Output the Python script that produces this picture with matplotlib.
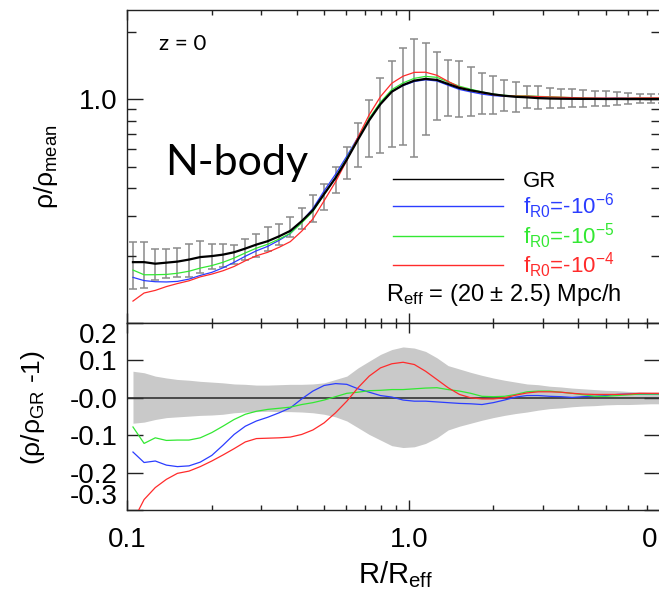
import numpy as np
import matplotlib
matplotlib.use("Agg")
import matplotlib.pyplot as plt

plt.rcParams['font.family'] = ['Liberation Sans', 'DejaVu Sans']
plt.rcParams['mathtext.fontset'] = 'custom'
plt.rcParams['mathtext.rm'] = 'Liberation Sans'
plt.rcParams['mathtext.it'] = 'Liberation Sans:italic'
plt.rcParams['mathtext.default'] = 'regular'

# radial bins R/R_eff
r = [0.105, 0.115, 0.126, 0.138, 0.151, 0.166, 0.182, 0.200, 0.219, 0.240,
     0.263, 0.288, 0.316, 0.347, 0.380, 0.417, 0.457, 0.501, 0.550, 0.603,
     0.661, 0.724, 0.794, 0.871, 0.955, 1.047, 1.148, 1.259, 1.380, 1.514,
     1.660, 1.820, 1.995, 2.188, 2.399, 2.630, 2.884, 3.162, 3.467, 3.802,
     4.169, 4.571, 5.012, 5.495, 6.026, 6.607, 7.244, 7.943]

# GR profile rho/rho_mean and its error bars
gr = [0.187, 0.187, 0.184, 0.186, 0.188, 0.192, 0.197, 0.199, 0.202, 0.207,
      0.215, 0.224, 0.232, 0.244, 0.258, 0.285, 0.319, 0.377, 0.445, 0.537,
      0.660, 0.804, 0.950, 1.079, 1.156, 1.209, 1.231, 1.218, 1.168, 1.121,
      1.094, 1.072, 1.050, 1.035, 1.024, 1.018, 1.010, 1.006, 1.004, 1.003,
      1.002, 1.002, 1.001, 1.001, 1.000, 1.000, 1.000, 1.000]
err_hi = [0.230, 0.230, 0.213, 0.213, 0.216, 0.225, 0.232, 0.225, 0.226, 0.222,
          0.237, 0.251, 0.269, 0.278, 0.298, 0.325, 0.373, 0.418, 0.499, 0.614,
          0.780, 0.990, 1.243, 1.483, 1.688, 1.863, 1.788, 1.628, 1.499, 1.475,
          1.393, 1.309, 1.269, 1.218, 1.193, 1.144, 1.144, 1.121, 1.109, 1.109,
          1.098, 1.087, 1.087, 1.075, 1.064, 1.053, 1.053, 1.050]
err_lo = [0.142, 0.144, 0.156, 0.159, 0.161, 0.161, 0.168, 0.175, 0.177, 0.184,
          0.192, 0.198, 0.210, 0.222, 0.241, 0.262, 0.282, 0.319, 0.381, 0.441,
          0.499, 0.554, 0.577, 0.608, 0.621, 0.554, 0.692, 0.809, 0.839, 0.834,
          0.839, 0.856, 0.856, 0.883, 0.874, 0.911, 0.902, 0.911, 0.911, 0.920,
          0.920, 0.930, 0.930, 0.940, 0.950, 0.959, 0.959, 0.962]

# rho/rho_GR - 1 for each f(R) model
d_f6 = [-0.145, -0.173, -0.169, -0.180, -0.184, -0.182, -0.172, -0.154, -0.127, -0.098,
        -0.076, -0.062, -0.052, -0.040, -0.027, -0.003, 0.018, 0.033, 0.038, 0.036,
        0.024, 0.015, 0.006, 0.002, -0.006, -0.009, -0.009, -0.011, -0.013, -0.015,
        -0.016, -0.018, -0.013, -0.006, 0.002, 0.006, 0.006, 0.004, 0.003, 0.001,
        0.003, 0.004, 0.006, 0.009, 0.010, 0.010, 0.010, 0.010]
d_f5 = [-0.078, -0.122, -0.107, -0.114, -0.113, -0.113, -0.107, -0.093, -0.076, -0.058,
        -0.044, -0.036, -0.031, -0.028, -0.025, -0.018, -0.013, -0.006, 0.003, 0.012,
        0.015, 0.019, 0.020, 0.022, 0.022, 0.024, 0.026, 0.027, 0.022, 0.018,
        0.012, 0.004, 0.003, 0.004, 0.009, 0.016, 0.018, 0.018, 0.015, 0.012,
        0.008, 0.004, 0.004, 0.006, 0.008, 0.010, 0.010, 0.010]
d_f4 = [-0.330, -0.272, -0.240, -0.218, -0.202, -0.196, -0.184, -0.169, -0.153, -0.136,
        -0.118, -0.109, -0.108, -0.107, -0.105, -0.098, -0.086, -0.067, -0.040, -0.009,
        0.027, 0.058, 0.080, 0.091, 0.095, 0.089, 0.071, 0.049, 0.027, 0.009,
        0.000, -0.003, -0.003, 0.000, 0.007, 0.013, 0.016, 0.016, 0.015, 0.012,
        0.010, 0.009, 0.009, 0.009, 0.010, 0.012, 0.012, 0.012]

# scatter band around GR
band_hi = [0.071, 0.067, 0.058, 0.053, 0.049, 0.047, 0.044, 0.042, 0.040, 0.037,
           0.036, 0.034, 0.034, 0.035, 0.036, 0.036, 0.037, 0.040, 0.049, 0.058,
           0.080, 0.098, 0.116, 0.129, 0.136, 0.133, 0.124, 0.107, 0.086, 0.077,
           0.068, 0.060, 0.053, 0.047, 0.042, 0.037, 0.035, 0.031, 0.029, 0.026,
           0.024, 0.022, 0.020, 0.019, 0.017, 0.016, 0.015, 0.015]
band_lo = [-0.068, -0.065, -0.058, -0.053, -0.051, -0.049, -0.047, -0.046, -0.044, -0.040,
           -0.038, -0.037, -0.036, -0.037, -0.037, -0.038, -0.040, -0.044, -0.051, -0.062,
           -0.080, -0.098, -0.113, -0.128, -0.133, -0.131, -0.122, -0.107, -0.086, -0.076,
           -0.068, -0.060, -0.053, -0.047, -0.042, -0.038, -0.033, -0.029, -0.027, -0.024,
           -0.022, -0.021, -0.019, -0.018, -0.018, -0.017, -0.016, -0.016]

model_names = [r'f$_{R0}$=-10$^{-6}$', r'f$_{R0}$=-10$^{-5}$', r'f$_{R0}$=-10$^{-4}$']
model_colors = ['#2b3dff', '#33e833', '#ff2b2b']
model_deltas = [d_f6, d_f5, d_f4]


def style_axes(ax):
    ax.tick_params(which='both', direction='in', top=True, right=True,
                   width=1.0, labelsize=20, color='#222222')
    ax.tick_params(axis='x', which='major', length=7, pad=12)
    ax.tick_params(axis='x', which='minor', length=3.5)
    ax.tick_params(axis='y', which='major', length=11.5, pad=7)
    ax.tick_params(axis='y', which='minor', length=6.5)
    for s in ax.spines.values():
        s.set_linewidth(1.0)
        s.set_color('#222222')


def main():
    x = np.array(r)
    g = np.array(gr)

    fig = plt.figure(figsize=(6.59, 5.9), dpi=100)
    ax1 = fig.add_axes([127/659, 267/590, 533/659, 313/590])
    ax2 = fig.add_axes([127/659, 80/590, 533/659, 187/590], sharex=ax1)

    # top panel
    ax1.set_xscale('log')
    ax1.set_yscale('log')
    yerr = np.array([g - np.array(err_lo), np.array(err_hi) - g])
    ax1.errorbar(x, g, yerr=yerr, fmt='none', ecolor='#8a8a8a',
                 elinewidth=1.1, capsize=3, capthick=1.1, zorder=1)
    handles = [ax1.plot(x, g, color='black', lw=1.6, zorder=5)[0]]
    for d, c in zip(model_deltas, model_colors):
        h, = ax1.plot(x, g * (1 + np.array(d)), color=c, lw=0.9, zorder=3)
        handles.append(h)

    ax1.set_xlim(0.1, 7.8)
    ax1.set_ylim(0.1, 2.5)
    ax1.set_yticks([1.0])
    ax1.set_yticklabels(['1.0'])
    ax1.set_yticks([0.2, 0.3, 0.4, 0.5, 0.6, 0.7, 0.8, 0.9, 2.0], minor=True)
    ax1.yaxis.set_minor_formatter(plt.NullFormatter())
    ax1.set_xticks([0.1, 1.0])
    ax1.set_xticks([0.2, 0.3, 0.4, 0.5, 0.6, 0.7, 0.8, 0.9, 2, 3, 4, 5, 6, 7], minor=True)
    ax1.xaxis.set_minor_formatter(plt.NullFormatter())
    style_axes(ax1)
    ax1.tick_params(axis='x', labelbottom=False)
    ax1.set_ylabel('ρ/ρ$_{mean}$', fontsize=19)
    ax1.yaxis.set_label_coords(-0.126, 0.5)

    leg = ax1.legend(handles, ['GR'] + model_names, loc='upper left',
                     bbox_to_anchor=(0.499, 0.487), frameon=False, fontsize=16,
                     handlelength=4.95, handletextpad=0.9, labelspacing=0.0,
                     borderpad=0, borderaxespad=0,
                     labelcolor=['black'] + model_colors)
    for ln in leg.get_lines():
        ln.set_linewidth(1.0)
    ax1.text(0.486, 0.089, r'R$_{eff}$ = (20 $\pm$ 2.5) Mpc/h', fontsize=17,
             transform=ax1.transAxes, va='center', ha='left')
    ax1.text(0.06, 0.891, 'z = 0', fontsize=16, family='Lato',
             transform=ax1.transAxes, va='center', ha='left')
    ax1.text(0.071, 0.473, 'N-body', fontsize=31, family='Lato',
             transform=ax1.transAxes, va='baseline', ha='left')

    # bottom panel
    ax2.fill_between(x, band_lo, band_hi, color='#c9c9c9', lw=0, zorder=1)
    ax2.axhline(0.0, color='#333333', lw=1.2, zorder=2)
    for d, c in zip(model_deltas, model_colors):
        ax2.plot(x, d, color=c, lw=0.9, zorder=3)
    ax2.set_ylim(-0.3, 0.2)
    ax2.set_yticks([0.2, 0.1, 0.0, -0.1, -0.2, -0.3])
    ax2.set_yticklabels(['0.2', '0.1', '-0.0', '-0.1', '-0.2', '-0.3'])
    ax2.set_xticks([0.1, 1.0])
    ax2.set_xticklabels(['0.1', '1.0'])
    ax2.set_xticks([0.2, 0.3, 0.4, 0.5, 0.6, 0.7, 0.8, 0.9, 2, 3, 4, 5, 6, 7], minor=True)
    ax2.xaxis.set_minor_formatter(plt.NullFormatter())
    style_axes(ax2)
    labs = ax2.get_yticklabels()
    labs[0].set_verticalalignment('top')
    labs[-1].set_verticalalignment('bottom')
    ax2.set_ylabel('(ρ/ρ$_{GR}$ -1)', fontsize=19)
    ax2.yaxis.set_label_coords(-0.150, 0.545)
    ax2.set_xlabel('R/R$_{eff}$', fontsize=21)
    ax2.xaxis.set_label_coords(0.503, -0.265)

    # neighbouring panel's tick label, cut by the right edge
    fig.text(642/659, 1 - 540/590, '0.1', fontsize=20, va='center', ha='left')

    fig.savefig('out.png', dpi=100)


if __name__ == "__main__":
    main()
